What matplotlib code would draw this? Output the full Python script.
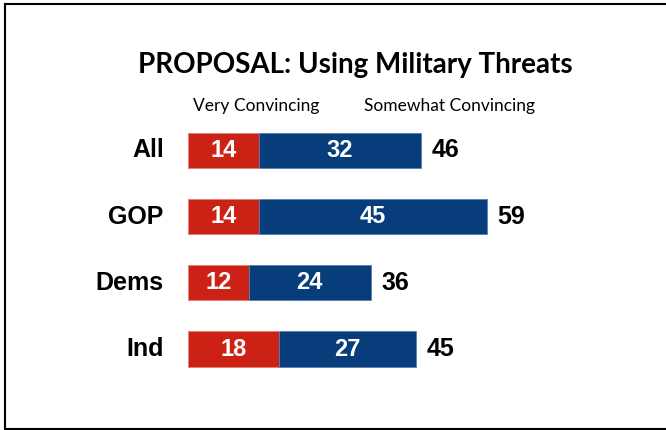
import matplotlib
matplotlib.use("Agg")
import matplotlib.pyplot as plt
from matplotlib.lines import Line2D

categories = ["All", "GOP", "Dems", "Ind"]
very = [14, 14, 12, 18]
somewhat = [32, 45, 24, 27]
totals = [46, 59, 36, 45]
legend_labels = ["Very Convincing", "Somewhat Convincing"]
title = "PROPOSAL: Using Military Threats"

RED = "#CC2216"
BLUE = "#083D7B"

W, H = 666, 430
fig = plt.figure(figsize=(W / 100, H / 100), dpi=100)

# axes in pixel geometry
x0 = 188
ppu = 5.07
xmax = 80
top_px, bot_px = 117.4, 382.1
ax = fig.add_axes([x0 / W, 1 - bot_px / H, xmax * ppu / W, (bot_px - top_px) / H])
ax.set_xlim(0, xmax)
ax.set_ylim(len(categories) - 0.5, -0.5)
ax.axis("off")

ypos = list(range(len(categories)))
bh = 0.53
ax.barh(ypos, very, height=bh, color=RED, edgecolor="#E08070", linewidth=0.6)
ax.barh(ypos, somewhat, left=very, height=bh, color=BLUE, edgecolor="#5A80B0", linewidth=0.6)

bold = dict(family=["Liberation Sans", "DejaVu Sans"], fontweight="bold")
for y, v, s, t, c in zip(ypos, very, somewhat, totals, categories):
    ax.text(v / 2, y, str(v), ha="center", va="center", color="white", fontsize=17, **bold)
    ax.text(v + s / 2, y, str(s), ha="center", va="center", color="white", fontsize=17, **bold)
    ax.text(t + 2.1, y, str(t), ha="left", va="center", color="black", fontsize=18, **bold)
    ax.text(-4.8, y, c, ha="right", va="center", color="black", fontsize=18, **bold)

fig.text(355 / W, 1 - 65 / H, title, ha="center", va="center", fontsize=20,
         fontweight="bold", family=["Lato", "DejaVu Sans"])
fig.text(256 / W, 1 - 106 / H, legend_labels[0], ha="center", va="center", fontsize=12.5,
         family=["Lato", "DejaVu Sans"])
fig.text(449.5 / W, 1 - 106 / H, legend_labels[1], ha="center", va="center", fontsize=12.5,
         family=["Lato", "DejaVu Sans"])

# frame: top, bottom, left
fig.add_artist(Line2D([5 / W, 1], [1 - 3.5 / H, 1 - 3.5 / H], color="black", lw=1.5, transform=fig.transFigure))
fig.add_artist(Line2D([5 / W, 1], [1 - 428.5 / H, 1 - 428.5 / H], color="black", lw=1.5, transform=fig.transFigure))
fig.add_artist(Line2D([5 / W, 5 / W], [1 - 3.5 / H, 1 - 428.5 / H], color="black", lw=1.5, transform=fig.transFigure))

fig.savefig("out.png", dpi=100)
